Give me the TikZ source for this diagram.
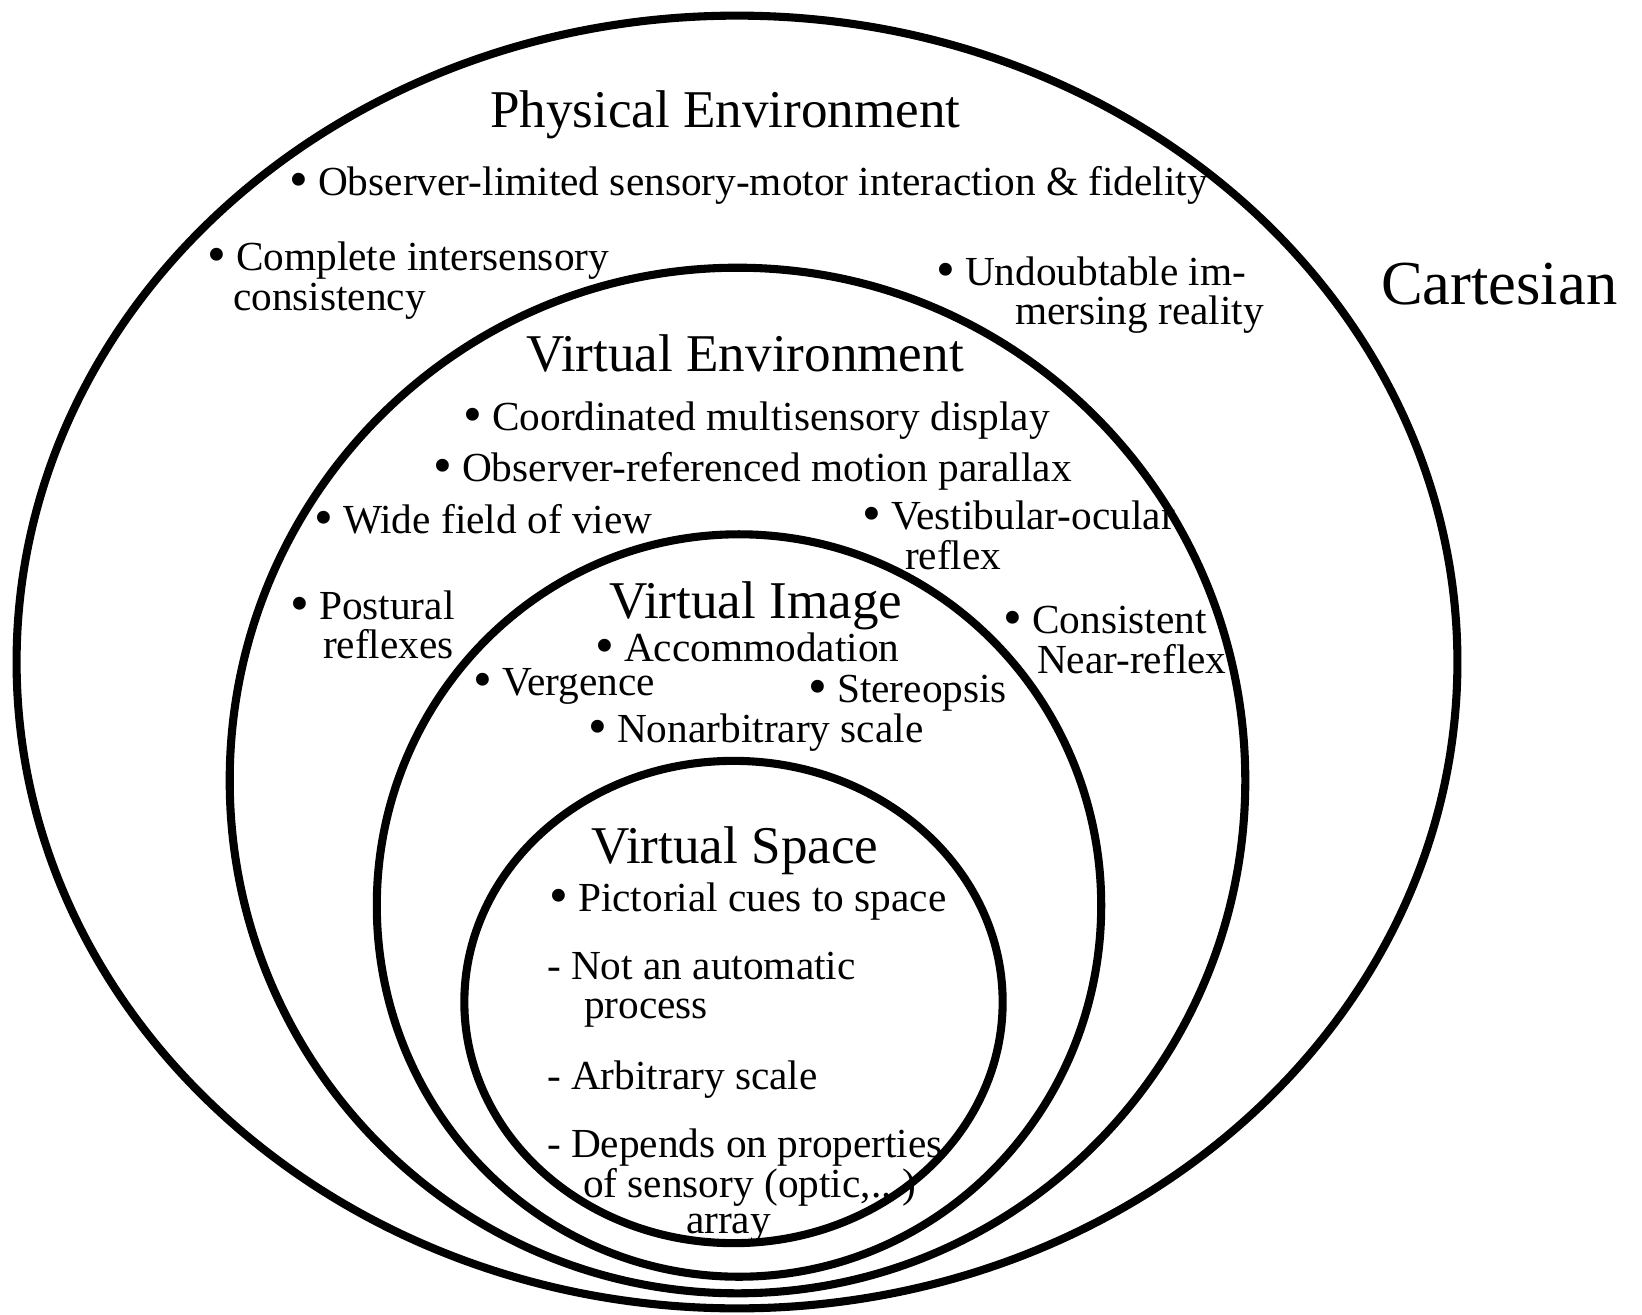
\documentclass[tikz,border=0pt]{standalone}
\usepackage{fontspec}
\setmainfont{Liberation Serif}
% a slightly larger bullet than the font's own
\newcommand\bul{\raisebox{-0.07em}{\scalebox{1.3}{•}}}
\tikzset{
  ring/.style={draw=black, line width=2.3pt},
  txt/.style={anchor=base west, inner sep=0pt, outer sep=0pt,
              text height=0.68em, text depth=0.2em,
              font=\fontsize{11.75}{12}\selectfont},
  ttl/.style={anchor=base west, inner sep=0pt, outer sep=0pt,
              font=\fontsize{15.1}{16}\selectfont},
  side/.style={anchor=base west, inner sep=0pt, outer sep=0pt,
               font=\fontsize{17.8}{20}\selectfont}
}
\begin{document}
\begin{tikzpicture}[x=0.01cm, y=-0.01cm]
  \useasboundingbox (0,0) rectangle (1642,1315);

  % nested domains
  \draw[ring] (737,662)    ellipse [x radius=7.20cm,  y radius=6.46cm];
  \draw[ring] (737.5,780.5) ellipse [x radius=5.075cm, y radius=5.125cm];
  \draw[ring] (739,905.5)  ellipse [x radius=3.62cm,  y radius=3.71cm];
  \draw[ring] (733.5,1002) ellipse [x radius=2.69cm,  y radius=2.41cm];

  % Physical Environment
  \node[ttl] (pe) at (490,127) {Physical Environment};
  \node[txt] (pe1) at (289,195) {\bul{} Observer-limited sensory-motor interaction \& fidelity};
  \node[txt] (pe2a) at (207,270) {\bul{} Complete intersensory};
  \node[txt] (pe2b) at (233,310) {consistency};
  \node[txt] (pe3a) at (936,285) {\bul{} Undoubtable im-};
  \node[txt] (pe3b) at (1015,324) {mersing reality};
  \node[side] (cart) at (1381,304) {Cartesian};

  % Virtual Environment
  \node[ttl] (ve) at (526,371) {Virtual Environment};
  \node[txt] (ve1) at (463,430) {\bul{} Coordinated multisensory display};
  \node[txt] (ve2) at (433,481) {\bul{} Observer-referenced motion parallax};
  \node[txt] (ve3) at (314,533) {\bul{} Wide field of view};
  \node[txt] (ve4a) at (862,529) {\bul{} Vestibular-ocular};
  \node[txt] (ve4b) at (905,569) {reflex};
  \node[txt] (ve5a) at (290,619) {\bul{} Postural};
  \node[txt] (ve5b) at (323,658) {reflexes};
  \node[txt] (ve6a) at (1003,633) {\bul{} Consistent};
  \node[txt] (ve6b) at (1037,673) {Near-reflex};

  % Virtual Image
  \node[ttl] (vi) at (609,618) {Virtual Image};
  \node[txt] (vi1) at (595,661) {\bul{} Accommodation};
  \node[txt] (vi2) at (473,695) {\bul{} Vergence};
  \node[txt] (vi3) at (808,702) {\bul{} Stereopsis};
  \node[txt] (vi4) at (588,742) {\bul{} Nonarbitrary scale};

  % Virtual Space
  \node[ttl] (vs) at (591,863) {Virtual Space};
  \node[txt] (vs1) at (549,911) {\bul{} Pictorial cues to space};
  \node[txt] (vs2a) at (547,979) {- Not an automatic};
  \node[txt] (vs2b) at (584,1018) {process};
  \node[txt] (vs3) at (547,1089) {- Arbitrary scale};
  \node[txt] (vs4a) at (547,1157) {- Depends on properties};
  \node[txt] (vs4b) at (583,1197) {of sensory (optic,...)};
  \node[txt] (vs4c) at (686,1233) {array};
\end{tikzpicture}
\end{document}
